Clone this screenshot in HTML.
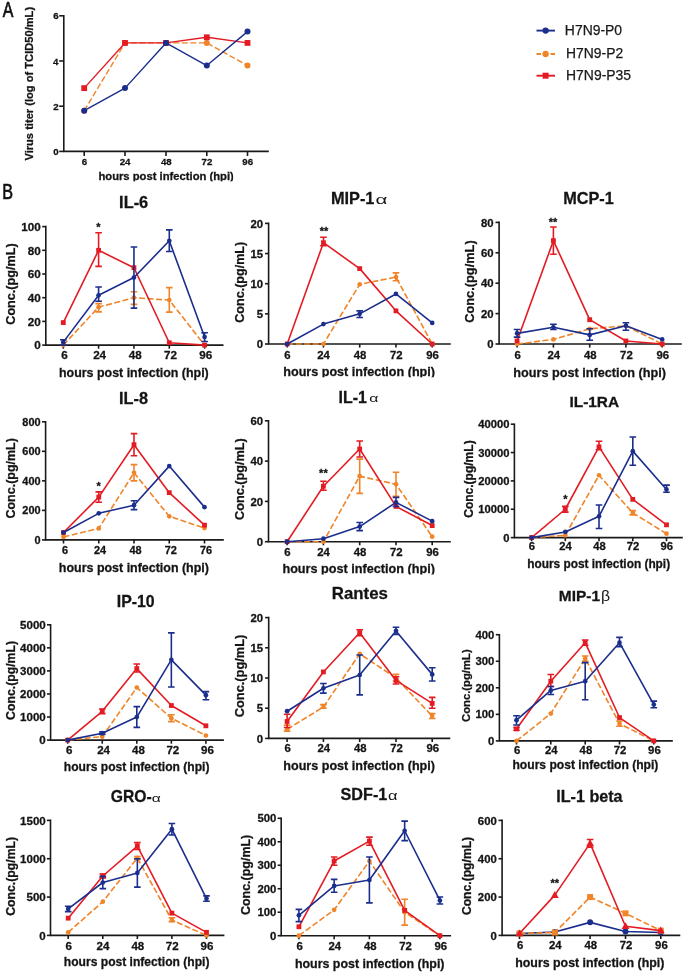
<!DOCTYPE html><html><head><meta charset="utf-8"><style>html,body{margin:0;padding:0;background:#fff;width:685px;height:972px;overflow:hidden}svg{display:block;will-change:transform}</style></head><body><svg width="685" height="972" viewBox="0 0 685 972" font-family='"Liberation Sans", sans-serif'>
<style>text[font-weight="bold"]{stroke:#141414;stroke-width:0.28px}</style>
<rect width="685" height="972" fill="#fff"/>
<path d="M63.8 15.8V151.4H268" fill="none" stroke="#1a1a1a" stroke-width="1.6" stroke-linecap="square"/>
<g stroke="#141414" stroke-width="0.3">
<path d="M59.2 151.4H63.8" stroke="#1a1a1a" stroke-width="1.6"/>
<text transform="translate(53.3,154.95) scale(0.98,1)" font-size="9.9" font-weight="bold" font-family='"Liberation Sans", sans-serif' fill="#141414">0</text>
<path d="M59.2 106.2H63.8" stroke="#1a1a1a" stroke-width="1.6"/>
<text transform="translate(53.3,109.75) scale(0.98,1)" font-size="9.9" font-weight="bold" font-family='"Liberation Sans", sans-serif' fill="#141414">2</text>
<path d="M59.2 61H63.8" stroke="#1a1a1a" stroke-width="1.6"/>
<text transform="translate(52.96,64.55) scale(0.98,1)" font-size="9.9" font-weight="bold" font-family='"Liberation Sans", sans-serif' fill="#141414">4</text>
<path d="M59.2 15.8H63.8" stroke="#1a1a1a" stroke-width="1.6"/>
<text transform="translate(53.25,19.35) scale(0.98,1)" font-size="9.9" font-weight="bold" font-family='"Liberation Sans", sans-serif' fill="#141414">6</text>
<path d="M84.2 151.4V156" stroke="#1a1a1a" stroke-width="1.6"/>
<text transform="translate(81.7,164.8) scale(0.98,1)" font-size="9.9" font-weight="bold" font-family='"Liberation Sans", sans-serif' fill="#141414">6</text>
<path d="M125 151.4V156" stroke="#1a1a1a" stroke-width="1.6"/>
<text transform="translate(119.67,164.8) scale(0.98,1)" font-size="9.9" font-weight="bold" font-family='"Liberation Sans", sans-serif' fill="#141414">24</text>
<path d="M166 151.4V156" stroke="#1a1a1a" stroke-width="1.6"/>
<text transform="translate(160.89,164.8) scale(0.98,1)" font-size="9.9" font-weight="bold" font-family='"Liberation Sans", sans-serif' fill="#141414">48</text>
<path d="M206.8 151.4V156" stroke="#1a1a1a" stroke-width="1.6"/>
<text transform="translate(201.6,164.8) scale(0.98,1)" font-size="9.9" font-weight="bold" font-family='"Liberation Sans", sans-serif' fill="#141414">72</text>
<path d="M247.5 151.4V156" stroke="#1a1a1a" stroke-width="1.6"/>
<text transform="translate(242.32,164.8) scale(0.98,1)" font-size="9.9" font-weight="bold" font-family='"Liberation Sans", sans-serif' fill="#141414">96</text>
</g>
<clipPath id="c24"><rect x="80" y="160" width="153.2" height="21.19999999999999"/></clipPath><g clip-path="url(#c24)">
<text x="98.41" y="179.8" font-size="11.24" font-weight="bold" font-family='"Liberation Sans", sans-serif' fill="#141414">hours post infection (hpi)</text>
</g>
<text transform="translate(33.1,160.58) rotate(-90)" font-size="11.14" font-weight="bold" fill="#141414">Virus titer (log of TCID50/mL)</text>
<g>
<polyline points="84.2,110.72 125,42.92 166,42.92 206.8,42.92 247.5,65.52" fill="none" stroke="#f08428" stroke-width="1.4" stroke-linejoin="round" stroke-dasharray="6,2.5"/>
<circle cx="84.2" cy="110.72" r="3" fill="#f08428"/>
<circle cx="125" cy="42.92" r="3" fill="#f08428"/>
<circle cx="166" cy="42.92" r="3" fill="#f08428"/>
<circle cx="206.8" cy="42.92" r="3" fill="#f08428"/>
<circle cx="247.5" cy="65.52" r="3" fill="#f08428"/>
</g>
<g>
<polyline points="84.2,88.12 125,42.92 166,42.92 206.8,37.27 247.5,42.92" fill="none" stroke="#e41b23" stroke-width="1.4" stroke-linejoin="round"/>
<rect x="81.3" y="85.22" width="5.8" height="5.8" fill="#e41b23"/>
<rect x="122.1" y="40.02" width="5.8" height="5.8" fill="#e41b23"/>
<rect x="163.1" y="40.02" width="5.8" height="5.8" fill="#e41b23"/>
<rect x="203.9" y="34.37" width="5.8" height="5.8" fill="#e41b23"/>
<rect x="244.6" y="40.02" width="5.8" height="5.8" fill="#e41b23"/>
</g>
<g>
<polyline points="84.2,110.72 125,88.12 166,42.92 206.8,65.52 247.5,31.62" fill="none" stroke="#1b2e8c" stroke-width="1.4" stroke-linejoin="round"/>
<circle cx="84.2" cy="110.72" r="3" fill="#1b2e8c"/>
<circle cx="125" cy="88.12" r="3" fill="#1b2e8c"/>
<circle cx="166" cy="42.92" r="3" fill="#1b2e8c"/>
<circle cx="206.8" cy="65.52" r="3" fill="#1b2e8c"/>
<circle cx="247.5" cy="31.62" r="3" fill="#1b2e8c"/>
</g>
<path d="M45.8 226.6V345.1H222.7" fill="none" stroke="#1a1a1a" stroke-width="1.6" stroke-linecap="square"/>
<g stroke="#141414" stroke-width="0.3">
<path d="M42.2 345.1H45.8" stroke="#1a1a1a" stroke-width="1.6"/>
<text transform="translate(34.19,349.3) scale(1.07,1)" font-size="10.9" font-weight="bold" font-family='"Liberation Sans", sans-serif' fill="#141414">0</text>
<path d="M42.2 321.4H45.8" stroke="#1a1a1a" stroke-width="1.6"/>
<text transform="translate(27.72,325.6) scale(1.07,1)" font-size="10.9" font-weight="bold" font-family='"Liberation Sans", sans-serif' fill="#141414">20</text>
<path d="M42.2 297.7H45.8" stroke="#1a1a1a" stroke-width="1.6"/>
<text transform="translate(27.72,301.9) scale(1.07,1)" font-size="10.9" font-weight="bold" font-family='"Liberation Sans", sans-serif' fill="#141414">40</text>
<path d="M42.2 274H45.8" stroke="#1a1a1a" stroke-width="1.6"/>
<text transform="translate(27.72,278.2) scale(1.07,1)" font-size="10.9" font-weight="bold" font-family='"Liberation Sans", sans-serif' fill="#141414">60</text>
<path d="M42.2 250.3H45.8" stroke="#1a1a1a" stroke-width="1.6"/>
<text transform="translate(27.72,254.5) scale(1.07,1)" font-size="10.9" font-weight="bold" font-family='"Liberation Sans", sans-serif' fill="#141414">80</text>
<path d="M42.2 226.6H45.8" stroke="#1a1a1a" stroke-width="1.6"/>
<text transform="translate(21.22,230.8) scale(1.07,1)" font-size="10.9" font-weight="bold" font-family='"Liberation Sans", sans-serif' fill="#141414">100</text>
<path d="M63.3 345.1V348.7" stroke="#1a1a1a" stroke-width="1.6"/>
<text transform="translate(61.25,359.2) scale(1.07,1)" font-size="10.9" font-weight="bold" font-family='"Liberation Sans", sans-serif' fill="#141414">6</text>
<path d="M98.6 345.1V348.7" stroke="#1a1a1a" stroke-width="1.6"/>
<text transform="translate(93.15,359.2) scale(1.07,1)" font-size="10.9" font-weight="bold" font-family='"Liberation Sans", sans-serif' fill="#141414">24</text>
<path d="M133.95 345.1V348.7" stroke="#1a1a1a" stroke-width="1.6"/>
<text transform="translate(128.76,359.2) scale(1.07,1)" font-size="10.9" font-weight="bold" font-family='"Liberation Sans", sans-serif' fill="#141414">48</text>
<path d="M169.3 345.1V348.7" stroke="#1a1a1a" stroke-width="1.6"/>
<text transform="translate(164.01,359.2) scale(1.07,1)" font-size="10.9" font-weight="bold" font-family='"Liberation Sans", sans-serif' fill="#141414">72</text>
<path d="M204.6 345.1V348.7" stroke="#1a1a1a" stroke-width="1.6"/>
<text transform="translate(199.33,359.2) scale(1.07,1)" font-size="10.9" font-weight="bold" font-family='"Liberation Sans", sans-serif' fill="#141414">96</text>
</g>
<text x="59.03" y="376.9" font-size="12.43" font-weight="bold" font-family='"Liberation Sans", sans-serif' fill="#141414">hours post infection (hpi)</text>
<text transform="translate(14.7,324.71) rotate(-90)" font-size="12.64" font-weight="bold" fill="#141414">Conc.(pg/mL)</text>
<text x="119.1" y="208.4" font-size="16.36" font-weight="bold" font-family='"Liberation Sans", sans-serif' fill="#141414">IL-6</text>
<g>
<polyline points="63.3,345.1 98.6,307.18 133.95,297.7 169.3,300.07 204.6,345.1" fill="none" stroke="#f08428" stroke-width="1.6" stroke-linejoin="round" stroke-dasharray="6,2.5"/>
<path d="M98.6 311.92V303.62M95.3 303.62H101.9M95.3 311.92H101.9" fill="none" stroke="#f08428" stroke-width="1.6"/>
<path d="M133.95 304.34V291.78M130.65 291.78H137.25M130.65 304.34H137.25" fill="none" stroke="#f08428" stroke-width="1.6"/>
<path d="M169.3 312.16V287.63M166 287.63H172.6M166 312.16H172.6" fill="none" stroke="#f08428" stroke-width="1.6"/>
<circle cx="63.3" cy="345.1" r="2.35" fill="#f08428"/>
<circle cx="98.6" cy="307.18" r="2.35" fill="#f08428"/>
<circle cx="133.95" cy="297.7" r="2.35" fill="#f08428"/>
<circle cx="169.3" cy="300.07" r="2.35" fill="#f08428"/>
<circle cx="204.6" cy="345.1" r="2.35" fill="#f08428"/>
</g>
<g>
<polyline points="63.3,322.59 98.6,250.3 133.95,267.72 169.3,342.73 204.6,345.1" fill="none" stroke="#e41b23" stroke-width="1.6" stroke-linejoin="round"/>
<path d="M98.6 266.42V232.76M95.3 232.76H101.9M95.3 266.42H101.9" fill="none" stroke="#e41b23" stroke-width="1.6"/>
<rect x="60.9" y="320.19" width="4.8" height="4.8" fill="#e41b23"/>
<rect x="96.2" y="247.9" width="4.8" height="4.8" fill="#e41b23"/>
<rect x="131.55" y="265.32" width="4.8" height="4.8" fill="#e41b23"/>
<rect x="166.9" y="340.33" width="4.8" height="4.8" fill="#e41b23"/>
<rect x="202.2" y="342.7" width="4.8" height="4.8" fill="#e41b23"/>
</g>
<g>
<polyline points="63.3,342.14 98.6,295.33 133.95,277.56 169.3,240.82 204.6,337.04" fill="none" stroke="#1b2e8c" stroke-width="1.6" stroke-linejoin="round"/>
<path d="M63.3 345.1V339.77M60 339.77H66.6M60 345.1H66.6" fill="none" stroke="#1b2e8c" stroke-width="1.6"/>
<path d="M98.6 301.25V287.04M95.3 287.04H101.9M95.3 301.25H101.9" fill="none" stroke="#1b2e8c" stroke-width="1.6"/>
<path d="M133.95 308.13V246.98M130.65 246.98H137.25M130.65 308.13H137.25" fill="none" stroke="#1b2e8c" stroke-width="1.6"/>
<path d="M169.3 251.49V229.92M166 229.92H172.6M166 251.49H172.6" fill="none" stroke="#1b2e8c" stroke-width="1.6"/>
<path d="M204.6 341.55V332.78M201.3 332.78H207.9M201.3 341.55H207.9" fill="none" stroke="#1b2e8c" stroke-width="1.6"/>
<circle cx="63.3" cy="342.14" r="2.35" fill="#1b2e8c"/>
<circle cx="98.6" cy="295.33" r="2.35" fill="#1b2e8c"/>
<circle cx="133.95" cy="277.56" r="2.35" fill="#1b2e8c"/>
<circle cx="169.3" cy="240.82" r="2.35" fill="#1b2e8c"/>
<circle cx="204.6" cy="337.04" r="2.35" fill="#1b2e8c"/>
</g>
<text x="96.26" y="231" font-size="11" font-weight="bold" font-family='"Liberation Sans", sans-serif' fill="#111">*</text>
<path d="M268.6 223.4V344H450" fill="none" stroke="#1a1a1a" stroke-width="1.6" stroke-linecap="square"/>
<g stroke="#141414" stroke-width="0.3">
<path d="M265 344H268.6" stroke="#1a1a1a" stroke-width="1.6"/>
<text transform="translate(256.86,348.1) scale(1.07,1)" font-size="10.6" font-weight="bold" font-family='"Liberation Sans", sans-serif' fill="#141414">0</text>
<path d="M265 313.85H268.6" stroke="#1a1a1a" stroke-width="1.6"/>
<text transform="translate(256.72,317.95) scale(1.07,1)" font-size="10.6" font-weight="bold" font-family='"Liberation Sans", sans-serif' fill="#141414">5</text>
<path d="M265 283.7H268.6" stroke="#1a1a1a" stroke-width="1.6"/>
<text transform="translate(250.56,287.8) scale(1.07,1)" font-size="10.6" font-weight="bold" font-family='"Liberation Sans", sans-serif' fill="#141414">10</text>
<path d="M265 253.55H268.6" stroke="#1a1a1a" stroke-width="1.6"/>
<text transform="translate(250.42,257.65) scale(1.07,1)" font-size="10.6" font-weight="bold" font-family='"Liberation Sans", sans-serif' fill="#141414">15</text>
<path d="M265 223.4H268.6" stroke="#1a1a1a" stroke-width="1.6"/>
<text transform="translate(250.56,227.5) scale(1.07,1)" font-size="10.6" font-weight="bold" font-family='"Liberation Sans", sans-serif' fill="#141414">20</text>
<path d="M287.2 344V347.6" stroke="#1a1a1a" stroke-width="1.6"/>
<text transform="translate(284.34,358.9) scale(1.07,1)" font-size="10.6" font-weight="bold" font-family='"Liberation Sans", sans-serif' fill="#141414">6</text>
<path d="M323.45 344V347.6" stroke="#1a1a1a" stroke-width="1.6"/>
<text transform="translate(317.29,358.9) scale(1.07,1)" font-size="10.6" font-weight="bold" font-family='"Liberation Sans", sans-serif' fill="#141414">24</text>
<path d="M359.7 344V347.6" stroke="#1a1a1a" stroke-width="1.6"/>
<text transform="translate(353.79,358.9) scale(1.07,1)" font-size="10.6" font-weight="bold" font-family='"Liberation Sans", sans-serif' fill="#141414">48</text>
<path d="M395.95 344V347.6" stroke="#1a1a1a" stroke-width="1.6"/>
<text transform="translate(389.94,358.9) scale(1.07,1)" font-size="10.6" font-weight="bold" font-family='"Liberation Sans", sans-serif' fill="#141414">72</text>
<path d="M432.2 344V347.6" stroke="#1a1a1a" stroke-width="1.6"/>
<text transform="translate(426.21,358.9) scale(1.07,1)" font-size="10.6" font-weight="bold" font-family='"Liberation Sans", sans-serif' fill="#141414">96</text>
</g>
<clipPath id="c137"><rect x="250" y="350" width="210" height="27.30000000000001"/></clipPath><g clip-path="url(#c137)">
<text x="283.32" y="376.1" font-size="12.59" font-weight="bold" font-family='"Liberation Sans", sans-serif' fill="#141414">hours post infection (hpi)</text>
</g>
<text transform="translate(243.75,322.8) rotate(-90)" font-size="12.58" font-weight="bold" fill="#141414">Conc.(pg/mL)</text>
<text x="330.9" y="204.3" font-size="16.34" font-weight="bold" font-family='"Liberation Sans", sans-serif' fill="#141414">MIP-1</text>
<text transform="translate(375.53,204.17) scale(1.56,1)" font-size="13.15" font-weight="normal" font-family='"Liberation Sans", sans-serif' fill="#141414">α</text>
<g>
<polyline points="287.2,344 323.45,344 359.7,284.3 395.95,277.07 432.2,344" fill="none" stroke="#f08428" stroke-width="1.6" stroke-linejoin="round" stroke-dasharray="6,2.5"/>
<path d="M395.95 280.69V272.85M392.65 272.85H399.25M392.65 280.69H399.25" fill="none" stroke="#f08428" stroke-width="1.6"/>
<circle cx="287.2" cy="344" r="2.35" fill="#f08428"/>
<circle cx="323.45" cy="344" r="2.35" fill="#f08428"/>
<circle cx="359.7" cy="284.3" r="2.35" fill="#f08428"/>
<circle cx="395.95" cy="277.07" r="2.35" fill="#f08428"/>
<circle cx="432.2" cy="344" r="2.35" fill="#f08428"/>
</g>
<g>
<polyline points="287.2,344 323.45,242.7 359.7,268.62 395.95,310.83 432.2,344" fill="none" stroke="#e41b23" stroke-width="1.6" stroke-linejoin="round"/>
<path d="M323.45 245.71V237.27M320.15 237.27H326.75M320.15 245.71H326.75" fill="none" stroke="#e41b23" stroke-width="1.6"/>
<rect x="284.8" y="341.6" width="4.8" height="4.8" fill="#e41b23"/>
<rect x="321.05" y="240.3" width="4.8" height="4.8" fill="#e41b23"/>
<rect x="357.3" y="266.23" width="4.8" height="4.8" fill="#e41b23"/>
<rect x="393.55" y="308.44" width="4.8" height="4.8" fill="#e41b23"/>
<rect x="429.8" y="341.6" width="4.8" height="4.8" fill="#e41b23"/>
</g>
<g>
<polyline points="287.2,344 323.45,324.1 359.7,313.85 395.95,293.95 432.2,322.89" fill="none" stroke="#1b2e8c" stroke-width="1.6" stroke-linejoin="round"/>
<path d="M359.7 317.47V310.83M356.4 310.83H363M356.4 317.47H363" fill="none" stroke="#1b2e8c" stroke-width="1.6"/>
<circle cx="287.2" cy="344" r="2.35" fill="#1b2e8c"/>
<circle cx="323.45" cy="324.1" r="2.35" fill="#1b2e8c"/>
<circle cx="359.7" cy="313.85" r="2.35" fill="#1b2e8c"/>
<circle cx="395.95" cy="293.95" r="2.35" fill="#1b2e8c"/>
<circle cx="432.2" cy="322.89" r="2.35" fill="#1b2e8c"/>
</g>
<text x="319.71" y="235.1" font-size="11" font-weight="bold" font-family='"Liberation Sans", sans-serif' fill="#111">**</text>
<path d="M499.1 222.4V344H681" fill="none" stroke="#1a1a1a" stroke-width="1.6" stroke-linecap="square"/>
<g stroke="#141414" stroke-width="0.3">
<path d="M495.5 344H499.1" stroke="#1a1a1a" stroke-width="1.6"/>
<text transform="translate(487.26,348.1) scale(1.07,1)" font-size="10.6" font-weight="bold" font-family='"Liberation Sans", sans-serif' fill="#141414">0</text>
<path d="M495.5 313.6H499.1" stroke="#1a1a1a" stroke-width="1.6"/>
<text transform="translate(480.96,317.7) scale(1.07,1)" font-size="10.6" font-weight="bold" font-family='"Liberation Sans", sans-serif' fill="#141414">20</text>
<path d="M495.5 283.2H499.1" stroke="#1a1a1a" stroke-width="1.6"/>
<text transform="translate(480.96,287.3) scale(1.07,1)" font-size="10.6" font-weight="bold" font-family='"Liberation Sans", sans-serif' fill="#141414">40</text>
<path d="M495.5 252.8H499.1" stroke="#1a1a1a" stroke-width="1.6"/>
<text transform="translate(480.96,256.9) scale(1.07,1)" font-size="10.6" font-weight="bold" font-family='"Liberation Sans", sans-serif' fill="#141414">60</text>
<path d="M495.5 222.4H499.1" stroke="#1a1a1a" stroke-width="1.6"/>
<text transform="translate(480.96,226.5) scale(1.07,1)" font-size="10.6" font-weight="bold" font-family='"Liberation Sans", sans-serif' fill="#141414">80</text>
<path d="M517.1 344V347.6" stroke="#1a1a1a" stroke-width="1.6"/>
<text transform="translate(514.44,359) scale(1.07,1)" font-size="10.6" font-weight="bold" font-family='"Liberation Sans", sans-serif' fill="#141414">6</text>
<path d="M553.4 344V347.6" stroke="#1a1a1a" stroke-width="1.6"/>
<text transform="translate(547.44,359) scale(1.07,1)" font-size="10.6" font-weight="bold" font-family='"Liberation Sans", sans-serif' fill="#141414">24</text>
<path d="M589.7 344V347.6" stroke="#1a1a1a" stroke-width="1.6"/>
<text transform="translate(583.99,359) scale(1.07,1)" font-size="10.6" font-weight="bold" font-family='"Liberation Sans", sans-serif' fill="#141414">48</text>
<path d="M625.9 344V347.6" stroke="#1a1a1a" stroke-width="1.6"/>
<text transform="translate(620.09,359) scale(1.07,1)" font-size="10.6" font-weight="bold" font-family='"Liberation Sans", sans-serif' fill="#141414">72</text>
<path d="M662.2 344V347.6" stroke="#1a1a1a" stroke-width="1.6"/>
<text transform="translate(656.41,359) scale(1.07,1)" font-size="10.6" font-weight="bold" font-family='"Liberation Sans", sans-serif' fill="#141414">96</text>
</g>
<text x="513.31" y="376.9" font-size="12.66" font-weight="bold" font-family='"Liberation Sans", sans-serif' fill="#141414">hours post infection (hpi)</text>
<text transform="translate(473.75,322.81) rotate(-90)" font-size="12.8" font-weight="bold" fill="#141414">Conc.(pg/mL)</text>
<text x="563.2" y="203.7" font-size="16.29" font-weight="bold" font-family='"Liberation Sans", sans-serif' fill="#141414">MCP-1</text>
<g>
<polyline points="517.1,344 553.4,339.44 589.7,328.8 625.9,325.76 662.2,344" fill="none" stroke="#f08428" stroke-width="1.6" stroke-linejoin="round" stroke-dasharray="6,2.5"/>
<circle cx="517.1" cy="344" r="2.35" fill="#f08428"/>
<circle cx="553.4" cy="339.44" r="2.35" fill="#f08428"/>
<circle cx="589.7" cy="328.8" r="2.35" fill="#f08428"/>
<circle cx="625.9" cy="325.76" r="2.35" fill="#f08428"/>
<circle cx="662.2" cy="344" r="2.35" fill="#f08428"/>
</g>
<g>
<polyline points="517.1,340.96 553.4,240.64 589.7,319.68 625.9,340.96 662.2,344" fill="none" stroke="#e41b23" stroke-width="1.6" stroke-linejoin="round"/>
<path d="M553.4 254.32V226.96M550.1 226.96H556.7M550.1 254.32H556.7" fill="none" stroke="#e41b23" stroke-width="1.6"/>
<rect x="514.7" y="338.56" width="4.8" height="4.8" fill="#e41b23"/>
<rect x="551" y="238.24" width="4.8" height="4.8" fill="#e41b23"/>
<rect x="587.3" y="317.28" width="4.8" height="4.8" fill="#e41b23"/>
<rect x="623.5" y="338.56" width="4.8" height="4.8" fill="#e41b23"/>
<rect x="659.8" y="341.6" width="4.8" height="4.8" fill="#e41b23"/>
</g>
<g>
<polyline points="517.1,333.36 553.4,327.28 589.7,334.88 625.9,325.76 662.2,339.44" fill="none" stroke="#1b2e8c" stroke-width="1.6" stroke-linejoin="round"/>
<path d="M517.1 337.16V329.56M513.8 329.56H520.4M513.8 337.16H520.4" fill="none" stroke="#1b2e8c" stroke-width="1.6"/>
<path d="M553.4 329.56V324.24M550.1 324.24H556.7M550.1 329.56H556.7" fill="none" stroke="#1b2e8c" stroke-width="1.6"/>
<path d="M589.7 340.2V328.8M586.4 328.8H593M586.4 340.2H593" fill="none" stroke="#1b2e8c" stroke-width="1.6"/>
<path d="M625.9 330.32V322.72M622.6 322.72H629.2M622.6 330.32H629.2" fill="none" stroke="#1b2e8c" stroke-width="1.6"/>
<circle cx="517.1" cy="333.36" r="2.35" fill="#1b2e8c"/>
<circle cx="553.4" cy="327.28" r="2.35" fill="#1b2e8c"/>
<circle cx="589.7" cy="334.88" r="2.35" fill="#1b2e8c"/>
<circle cx="625.9" cy="325.76" r="2.35" fill="#1b2e8c"/>
<circle cx="662.2" cy="339.44" r="2.35" fill="#1b2e8c"/>
</g>
<text x="548.71" y="226" font-size="11" font-weight="bold" font-family='"Liberation Sans", sans-serif' fill="#111">**</text>
<path d="M45.6 421.8V539.9H223" fill="none" stroke="#1a1a1a" stroke-width="1.6" stroke-linecap="square"/>
<g stroke="#141414" stroke-width="0.3">
<path d="M42 539.9H45.6" stroke="#1a1a1a" stroke-width="1.6"/>
<text transform="translate(34.48,543.86) scale(1.07,1)" font-size="10.2" font-weight="bold" font-family='"Liberation Sans", sans-serif' fill="#141414">0</text>
<path d="M42 510.38H45.6" stroke="#1a1a1a" stroke-width="1.6"/>
<text transform="translate(22.34,514.33) scale(1.07,1)" font-size="10.2" font-weight="bold" font-family='"Liberation Sans", sans-serif' fill="#141414">200</text>
<path d="M42 480.85H45.6" stroke="#1a1a1a" stroke-width="1.6"/>
<text transform="translate(22.34,484.81) scale(1.07,1)" font-size="10.2" font-weight="bold" font-family='"Liberation Sans", sans-serif' fill="#141414">400</text>
<path d="M42 451.32H45.6" stroke="#1a1a1a" stroke-width="1.6"/>
<text transform="translate(22.34,455.28) scale(1.07,1)" font-size="10.2" font-weight="bold" font-family='"Liberation Sans", sans-serif' fill="#141414">600</text>
<path d="M42 421.8H45.6" stroke="#1a1a1a" stroke-width="1.6"/>
<text transform="translate(22.34,425.76) scale(1.07,1)" font-size="10.2" font-weight="bold" font-family='"Liberation Sans", sans-serif' fill="#141414">800</text>
<path d="M63.5 539.9V543.5" stroke="#1a1a1a" stroke-width="1.6"/>
<text transform="translate(61.96,554.4) scale(1.07,1)" font-size="10.2" font-weight="bold" font-family='"Liberation Sans", sans-serif' fill="#141414">6</text>
<path d="M98.75 539.9V543.5" stroke="#1a1a1a" stroke-width="1.6"/>
<text transform="translate(94.03,554.4) scale(1.07,1)" font-size="10.2" font-weight="bold" font-family='"Liberation Sans", sans-serif' fill="#141414">24</text>
<path d="M134 539.9V543.5" stroke="#1a1a1a" stroke-width="1.6"/>
<text transform="translate(129.52,554.4) scale(1.07,1)" font-size="10.2" font-weight="bold" font-family='"Liberation Sans", sans-serif' fill="#141414">48</text>
<path d="M169.25 539.9V543.5" stroke="#1a1a1a" stroke-width="1.6"/>
<text transform="translate(164.68,554.4) scale(1.07,1)" font-size="10.2" font-weight="bold" font-family='"Liberation Sans", sans-serif' fill="#141414">72</text>
<path d="M204.5 539.9V543.5" stroke="#1a1a1a" stroke-width="1.6"/>
<text transform="translate(199.9,554.4) scale(1.07,1)" font-size="10.2" font-weight="bold" font-family='"Liberation Sans", sans-serif' fill="#141414">76</text>
</g>
<text x="58.83" y="571.9" font-size="12.46" font-weight="bold" font-family='"Liberation Sans", sans-serif' fill="#141414">hours post infection (hpi)</text>
<text transform="translate(15,518.5) rotate(-90)" font-size="12.47" font-weight="bold" fill="#141414">Conc.(pg/mL)</text>
<text x="119.1" y="403.7" font-size="16.31" font-weight="bold" font-family='"Liberation Sans", sans-serif' fill="#141414">IL-8</text>
<g>
<polyline points="63.5,536.95 98.75,528.39 134,472.73 169.25,516.28 204.5,528.09" fill="none" stroke="#f08428" stroke-width="1.6" stroke-linejoin="round" stroke-dasharray="6,2.5"/>
<path d="M134 480.85V464.61M130.7 464.61H137.3M130.7 480.85H137.3" fill="none" stroke="#f08428" stroke-width="1.6"/>
<circle cx="63.5" cy="536.95" r="2.35" fill="#f08428"/>
<circle cx="98.75" cy="528.39" r="2.35" fill="#f08428"/>
<circle cx="134" cy="472.73" r="2.35" fill="#f08428"/>
<circle cx="169.25" cy="516.28" r="2.35" fill="#f08428"/>
<circle cx="204.5" cy="528.09" r="2.35" fill="#f08428"/>
</g>
<g>
<polyline points="63.5,532.52 98.75,497.09 134,444.68 169.25,492.66 204.5,525.14" fill="none" stroke="#e41b23" stroke-width="1.6" stroke-linejoin="round"/>
<path d="M98.75 502.26V491.92M95.45 491.92H102.05M95.45 502.26H102.05" fill="none" stroke="#e41b23" stroke-width="1.6"/>
<path d="M134 455.75V433.61M130.7 433.61H137.3M130.7 455.75H137.3" fill="none" stroke="#e41b23" stroke-width="1.6"/>
<rect x="61.1" y="530.12" width="4.8" height="4.8" fill="#e41b23"/>
<rect x="96.35" y="494.69" width="4.8" height="4.8" fill="#e41b23"/>
<rect x="131.6" y="442.28" width="4.8" height="4.8" fill="#e41b23"/>
<rect x="166.85" y="490.26" width="4.8" height="4.8" fill="#e41b23"/>
<rect x="202.1" y="522.74" width="4.8" height="4.8" fill="#e41b23"/>
</g>
<g>
<polyline points="63.5,532.52 98.75,513.33 134,505.21 169.25,466.09 204.5,507.13" fill="none" stroke="#1b2e8c" stroke-width="1.6" stroke-linejoin="round"/>
<path d="M134 509.64V500.78M130.7 500.78H137.3M130.7 509.64H137.3" fill="none" stroke="#1b2e8c" stroke-width="1.6"/>
<circle cx="63.5" cy="532.52" r="2.35" fill="#1b2e8c"/>
<circle cx="98.75" cy="513.33" r="2.35" fill="#1b2e8c"/>
<circle cx="134" cy="505.21" r="2.35" fill="#1b2e8c"/>
<circle cx="169.25" cy="466.09" r="2.35" fill="#1b2e8c"/>
<circle cx="204.5" cy="507.13" r="2.35" fill="#1b2e8c"/>
</g>
<text x="96.61" y="489.5" font-size="11" font-weight="bold" font-family='"Liberation Sans", sans-serif' fill="#111">*</text>
<path d="M268.5 420.8V541.7H450" fill="none" stroke="#1a1a1a" stroke-width="1.6" stroke-linecap="square"/>
<g stroke="#141414" stroke-width="0.3">
<path d="M264.9 541.7H268.5" stroke="#1a1a1a" stroke-width="1.6"/>
<text transform="translate(256.86,545.8) scale(1.07,1)" font-size="10.6" font-weight="bold" font-family='"Liberation Sans", sans-serif' fill="#141414">0</text>
<path d="M264.9 501.4H268.5" stroke="#1a1a1a" stroke-width="1.6"/>
<text transform="translate(250.56,505.5) scale(1.07,1)" font-size="10.6" font-weight="bold" font-family='"Liberation Sans", sans-serif' fill="#141414">20</text>
<path d="M264.9 461.1H268.5" stroke="#1a1a1a" stroke-width="1.6"/>
<text transform="translate(250.56,465.2) scale(1.07,1)" font-size="10.6" font-weight="bold" font-family='"Liberation Sans", sans-serif' fill="#141414">40</text>
<path d="M264.9 420.8H268.5" stroke="#1a1a1a" stroke-width="1.6"/>
<text transform="translate(250.56,424.9) scale(1.07,1)" font-size="10.6" font-weight="bold" font-family='"Liberation Sans", sans-serif' fill="#141414">60</text>
<path d="M287.1 541.7V545.3" stroke="#1a1a1a" stroke-width="1.6"/>
<text transform="translate(284.24,556.1) scale(1.07,1)" font-size="10.6" font-weight="bold" font-family='"Liberation Sans", sans-serif' fill="#141414">6</text>
<path d="M323.4 541.7V545.3" stroke="#1a1a1a" stroke-width="1.6"/>
<text transform="translate(317.24,556.1) scale(1.07,1)" font-size="10.6" font-weight="bold" font-family='"Liberation Sans", sans-serif' fill="#141414">24</text>
<path d="M359.7 541.7V545.3" stroke="#1a1a1a" stroke-width="1.6"/>
<text transform="translate(353.79,556.1) scale(1.07,1)" font-size="10.6" font-weight="bold" font-family='"Liberation Sans", sans-serif' fill="#141414">48</text>
<path d="M396 541.7V545.3" stroke="#1a1a1a" stroke-width="1.6"/>
<text transform="translate(389.99,556.1) scale(1.07,1)" font-size="10.6" font-weight="bold" font-family='"Liberation Sans", sans-serif' fill="#141414">72</text>
<path d="M432.2 541.7V545.3" stroke="#1a1a1a" stroke-width="1.6"/>
<text transform="translate(426.21,556.1) scale(1.07,1)" font-size="10.6" font-weight="bold" font-family='"Liberation Sans", sans-serif' fill="#141414">96</text>
</g>
<clipPath id="c303"><rect x="250" y="550" width="210" height="24.399999999999977"/></clipPath><g clip-path="url(#c303)">
<text x="282.41" y="573.3" font-size="12.67" font-weight="bold" font-family='"Liberation Sans", sans-serif' fill="#141414">hours post infection (hpi)</text>
</g>
<text transform="translate(243.75,519.91) rotate(-90)" font-size="12.69" font-weight="bold" fill="#141414">Conc.(pg/mL)</text>
<text x="338.52" y="402.5" font-size="15.93" font-weight="bold" font-family='"Liberation Sans", sans-serif' fill="#141414">IL-1</text>
<text transform="translate(369.33,402.39) scale(1.44,1)" font-size="10.96" font-weight="normal" font-family='"Liberation Sans", sans-serif' fill="#141414">α</text>
<g>
<polyline points="287.1,541.7 323.4,541.7 359.7,476.21 396,484.27 432.2,536.66" fill="none" stroke="#f08428" stroke-width="1.6" stroke-linejoin="round" stroke-dasharray="6,2.5"/>
<path d="M359.7 493.34V459.09M356.4 459.09H363M356.4 493.34H363" fill="none" stroke="#f08428" stroke-width="1.6"/>
<path d="M396 496.36V472.18M392.7 472.18H399.3M392.7 496.36H399.3" fill="none" stroke="#f08428" stroke-width="1.6"/>
<circle cx="287.1" cy="541.7" r="2.35" fill="#f08428"/>
<circle cx="323.4" cy="541.7" r="2.35" fill="#f08428"/>
<circle cx="359.7" cy="476.21" r="2.35" fill="#f08428"/>
<circle cx="396" cy="484.27" r="2.35" fill="#f08428"/>
<circle cx="432.2" cy="536.66" r="2.35" fill="#f08428"/>
</g>
<g>
<polyline points="287.1,541.7 323.4,486.29 359.7,449.01 396,506.44 432.2,525.58" fill="none" stroke="#e41b23" stroke-width="1.6" stroke-linejoin="round"/>
<path d="M323.4 490.32V481.25M320.1 481.25H326.7M320.1 490.32H326.7" fill="none" stroke="#e41b23" stroke-width="1.6"/>
<path d="M359.7 457.07V440.95M356.4 440.95H363M356.4 457.07H363" fill="none" stroke="#e41b23" stroke-width="1.6"/>
<rect x="284.7" y="539.3" width="4.8" height="4.8" fill="#e41b23"/>
<rect x="321" y="483.89" width="4.8" height="4.8" fill="#e41b23"/>
<rect x="357.3" y="446.61" width="4.8" height="4.8" fill="#e41b23"/>
<rect x="393.6" y="504.04" width="4.8" height="4.8" fill="#e41b23"/>
<rect x="429.8" y="523.18" width="4.8" height="4.8" fill="#e41b23"/>
</g>
<g>
<polyline points="287.1,541.7 323.4,538.68 359.7,526.59 396,502.41 432.2,521.15" fill="none" stroke="#1b2e8c" stroke-width="1.6" stroke-linejoin="round"/>
<path d="M359.7 530.62V522.56M356.4 522.56H363M356.4 530.62H363" fill="none" stroke="#1b2e8c" stroke-width="1.6"/>
<path d="M396 506.44V497.37M392.7 497.37H399.3M392.7 506.44H399.3" fill="none" stroke="#1b2e8c" stroke-width="1.6"/>
<circle cx="287.1" cy="541.7" r="2.35" fill="#1b2e8c"/>
<circle cx="323.4" cy="538.68" r="2.35" fill="#1b2e8c"/>
<circle cx="359.7" cy="526.59" r="2.35" fill="#1b2e8c"/>
<circle cx="396" cy="502.41" r="2.35" fill="#1b2e8c"/>
<circle cx="432.2" cy="521.15" r="2.35" fill="#1b2e8c"/>
</g>
<text x="319.11" y="477" font-size="11" font-weight="bold" font-family='"Liberation Sans", sans-serif' fill="#111">**</text>
<path d="M514.4 424.2V537.6H682" fill="none" stroke="#1a1a1a" stroke-width="1.6" stroke-linecap="square"/>
<g stroke="#141414" stroke-width="0.3">
<path d="M510.8 537.6H514.4" stroke="#1a1a1a" stroke-width="1.6"/>
<text transform="translate(503.21,541.66) scale(1.07,1)" font-size="10.5" font-weight="bold" font-family='"Liberation Sans", sans-serif' fill="#141414">0</text>
<path d="M510.8 509.25H514.4" stroke="#1a1a1a" stroke-width="1.6"/>
<text transform="translate(478.22,513.31) scale(1.07,1)" font-size="10.5" font-weight="bold" font-family='"Liberation Sans", sans-serif' fill="#141414">10000</text>
<path d="M510.8 480.9H514.4" stroke="#1a1a1a" stroke-width="1.6"/>
<text transform="translate(478.22,484.96) scale(1.07,1)" font-size="10.5" font-weight="bold" font-family='"Liberation Sans", sans-serif' fill="#141414">20000</text>
<path d="M510.8 452.55H514.4" stroke="#1a1a1a" stroke-width="1.6"/>
<text transform="translate(478.22,456.61) scale(1.07,1)" font-size="10.5" font-weight="bold" font-family='"Liberation Sans", sans-serif' fill="#141414">30000</text>
<path d="M510.8 424.2H514.4" stroke="#1a1a1a" stroke-width="1.6"/>
<text transform="translate(478.22,428.26) scale(1.07,1)" font-size="10.5" font-weight="bold" font-family='"Liberation Sans", sans-serif' fill="#141414">40000</text>
<path d="M531.6 537.6V541.2" stroke="#1a1a1a" stroke-width="1.6"/>
<text transform="translate(528.77,550.3) scale(1.07,1)" font-size="10.5" font-weight="bold" font-family='"Liberation Sans", sans-serif' fill="#141414">6</text>
<path d="M565.3 537.6V541.2" stroke="#1a1a1a" stroke-width="1.6"/>
<text transform="translate(559.2,550.3) scale(1.07,1)" font-size="10.5" font-weight="bold" font-family='"Liberation Sans", sans-serif' fill="#141414">24</text>
<path d="M599 537.6V541.2" stroke="#1a1a1a" stroke-width="1.6"/>
<text transform="translate(593.15,550.3) scale(1.07,1)" font-size="10.5" font-weight="bold" font-family='"Liberation Sans", sans-serif' fill="#141414">48</text>
<path d="M632.8 537.6V541.2" stroke="#1a1a1a" stroke-width="1.6"/>
<text transform="translate(626.85,550.3) scale(1.07,1)" font-size="10.5" font-weight="bold" font-family='"Liberation Sans", sans-serif' fill="#141414">72</text>
<path d="M666.5 537.6V541.2" stroke="#1a1a1a" stroke-width="1.6"/>
<text transform="translate(660.56,550.3) scale(1.07,1)" font-size="10.5" font-weight="bold" font-family='"Liberation Sans", sans-serif' fill="#141414">96</text>
</g>
<text x="527.17" y="567.7" font-size="11.86" font-weight="bold" font-family='"Liberation Sans", sans-serif' fill="#141414">hours post infection (hpi)</text>
<text transform="translate(473,517.78) rotate(-90)" font-size="12.03" font-weight="bold" fill="#141414">Conc.(pg/mL)</text>
<text x="569.46" y="407.2" font-size="15.41" font-weight="bold" font-family='"Liberation Sans", sans-serif' fill="#141414">IL-1RA</text>
<g>
<polyline points="531.6,537.6 565.3,535.33 599,475.23 632.8,512.94 666.5,533.63" fill="none" stroke="#f08428" stroke-width="1.6" stroke-linejoin="round" stroke-dasharray="6,2.5"/>
<path d="M632.8 514.92V510.67M629.5 510.67H636.1M629.5 514.92H636.1" fill="none" stroke="#f08428" stroke-width="1.6"/>
<circle cx="531.6" cy="537.6" r="2.35" fill="#f08428"/>
<circle cx="565.3" cy="535.33" r="2.35" fill="#f08428"/>
<circle cx="599" cy="475.23" r="2.35" fill="#f08428"/>
<circle cx="632.8" cy="512.94" r="2.35" fill="#f08428"/>
<circle cx="666.5" cy="533.63" r="2.35" fill="#f08428"/>
</g>
<g>
<polyline points="531.6,537.6 565.3,509.25 599,446.88 632.8,499.33 666.5,524.84" fill="none" stroke="#e41b23" stroke-width="1.6" stroke-linejoin="round"/>
<path d="M565.3 512.09V506.42M562 506.42H568.6M562 512.09H568.6" fill="none" stroke="#e41b23" stroke-width="1.6"/>
<path d="M599 449.72V441.21M595.7 441.21H602.3M595.7 449.72H602.3" fill="none" stroke="#e41b23" stroke-width="1.6"/>
<rect x="529.2" y="535.2" width="4.8" height="4.8" fill="#e41b23"/>
<rect x="562.9" y="506.85" width="4.8" height="4.8" fill="#e41b23"/>
<rect x="596.6" y="444.48" width="4.8" height="4.8" fill="#e41b23"/>
<rect x="630.4" y="496.93" width="4.8" height="4.8" fill="#e41b23"/>
<rect x="664.1" y="522.44" width="4.8" height="4.8" fill="#e41b23"/>
</g>
<g>
<polyline points="531.6,537.6 565.3,531.93 599,516.34 632.8,451.13 666.5,489.41" fill="none" stroke="#1b2e8c" stroke-width="1.6" stroke-linejoin="round"/>
<path d="M599 528.53V505M595.7 505H602.3M595.7 528.53H602.3" fill="none" stroke="#1b2e8c" stroke-width="1.6"/>
<path d="M632.8 465.31V436.96M629.5 436.96H636.1M629.5 465.31H636.1" fill="none" stroke="#1b2e8c" stroke-width="1.6"/>
<path d="M666.5 492.24V485.15M663.2 485.15H669.8M663.2 492.24H669.8" fill="none" stroke="#1b2e8c" stroke-width="1.6"/>
<circle cx="531.6" cy="537.6" r="2.35" fill="#1b2e8c"/>
<circle cx="565.3" cy="531.93" r="2.35" fill="#1b2e8c"/>
<circle cx="599" cy="516.34" r="2.35" fill="#1b2e8c"/>
<circle cx="632.8" cy="451.13" r="2.35" fill="#1b2e8c"/>
<circle cx="666.5" cy="489.41" r="2.35" fill="#1b2e8c"/>
</g>
<text x="563.15" y="503" font-size="11" font-weight="bold" font-family='"Liberation Sans", sans-serif' fill="#111">*</text>
<path d="M50.6 624.8V740.1H223.1" fill="none" stroke="#1a1a1a" stroke-width="1.6" stroke-linecap="square"/>
<g stroke="#141414" stroke-width="0.3">
<path d="M47 740.1H50.6" stroke="#1a1a1a" stroke-width="1.6"/>
<text transform="translate(39.35,744.27) scale(1.07,1)" font-size="10.8" font-weight="bold" font-family='"Liberation Sans", sans-serif' fill="#141414">0</text>
<path d="M47 717.04H50.6" stroke="#1a1a1a" stroke-width="1.6"/>
<text transform="translate(20.08,721.21) scale(1.07,1)" font-size="10.8" font-weight="bold" font-family='"Liberation Sans", sans-serif' fill="#141414">1000</text>
<path d="M47 693.98H50.6" stroke="#1a1a1a" stroke-width="1.6"/>
<text transform="translate(20.08,698.15) scale(1.07,1)" font-size="10.8" font-weight="bold" font-family='"Liberation Sans", sans-serif' fill="#141414">2000</text>
<path d="M47 670.92H50.6" stroke="#1a1a1a" stroke-width="1.6"/>
<text transform="translate(20.08,675.09) scale(1.07,1)" font-size="10.8" font-weight="bold" font-family='"Liberation Sans", sans-serif' fill="#141414">3000</text>
<path d="M47 647.86H50.6" stroke="#1a1a1a" stroke-width="1.6"/>
<text transform="translate(20.08,652.03) scale(1.07,1)" font-size="10.8" font-weight="bold" font-family='"Liberation Sans", sans-serif' fill="#141414">4000</text>
<path d="M47 624.8H50.6" stroke="#1a1a1a" stroke-width="1.6"/>
<text transform="translate(20.08,628.97) scale(1.07,1)" font-size="10.8" font-weight="bold" font-family='"Liberation Sans", sans-serif' fill="#141414">5000</text>
<path d="M67.7 740.1V743.7" stroke="#1a1a1a" stroke-width="1.6"/>
<text transform="translate(65.98,753.8) scale(1.07,1)" font-size="10.8" font-weight="bold" font-family='"Liberation Sans", sans-serif' fill="#141414">6</text>
<path d="M102.25 740.1V743.7" stroke="#1a1a1a" stroke-width="1.6"/>
<text transform="translate(97.16,753.8) scale(1.07,1)" font-size="10.8" font-weight="bold" font-family='"Liberation Sans", sans-serif' fill="#141414">24</text>
<path d="M136.8 740.1V743.7" stroke="#1a1a1a" stroke-width="1.6"/>
<text transform="translate(131.97,753.8) scale(1.07,1)" font-size="10.8" font-weight="bold" font-family='"Liberation Sans", sans-serif' fill="#141414">48</text>
<path d="M171.35 740.1V743.7" stroke="#1a1a1a" stroke-width="1.6"/>
<text transform="translate(166.42,753.8) scale(1.07,1)" font-size="10.8" font-weight="bold" font-family='"Liberation Sans", sans-serif' fill="#141414">72</text>
<path d="M205.9 740.1V743.7" stroke="#1a1a1a" stroke-width="1.6"/>
<text transform="translate(200.99,753.8) scale(1.07,1)" font-size="10.8" font-weight="bold" font-family='"Liberation Sans", sans-serif' fill="#141414">96</text>
</g>
<text x="63.85" y="771.3" font-size="12.08" font-weight="bold" font-family='"Liberation Sans", sans-serif' fill="#141414">hours post infection (hpi)</text>
<text transform="translate(15,719.89) rotate(-90)" font-size="12.26" font-weight="bold" fill="#141414">Conc.(pg/mL)</text>
<text x="116.73" y="607" font-size="15.86" font-weight="bold" font-family='"Liberation Sans", sans-serif' fill="#141414">IP-10</text>
<g>
<polyline points="67.7,740.1 102.25,736.64 136.8,687.52 171.35,718.19 205.9,735.49" fill="none" stroke="#f08428" stroke-width="1.6" stroke-linejoin="round" stroke-dasharray="6,2.5"/>
<path d="M171.35 721.65V714.73M168.05 714.73H174.65M168.05 721.65H174.65" fill="none" stroke="#f08428" stroke-width="1.6"/>
<circle cx="67.7" cy="740.1" r="2.35" fill="#f08428"/>
<circle cx="102.25" cy="736.64" r="2.35" fill="#f08428"/>
<circle cx="136.8" cy="687.52" r="2.35" fill="#f08428"/>
<circle cx="171.35" cy="718.19" r="2.35" fill="#f08428"/>
<circle cx="205.9" cy="735.49" r="2.35" fill="#f08428"/>
</g>
<g>
<polyline points="67.7,740.1 102.25,711.27 136.8,668.61 171.35,705.51 205.9,725.8" fill="none" stroke="#e41b23" stroke-width="1.6" stroke-linejoin="round"/>
<path d="M102.25 713.58V708.97M98.95 708.97H105.55M98.95 713.58H105.55" fill="none" stroke="#e41b23" stroke-width="1.6"/>
<path d="M136.8 672.07V664M133.5 664H140.1M133.5 672.07H140.1" fill="none" stroke="#e41b23" stroke-width="1.6"/>
<rect x="65.3" y="737.7" width="4.8" height="4.8" fill="#e41b23"/>
<rect x="99.85" y="708.88" width="4.8" height="4.8" fill="#e41b23"/>
<rect x="134.4" y="666.21" width="4.8" height="4.8" fill="#e41b23"/>
<rect x="168.95" y="703.11" width="4.8" height="4.8" fill="#e41b23"/>
<rect x="203.5" y="723.4" width="4.8" height="4.8" fill="#e41b23"/>
</g>
<g>
<polyline points="67.7,740.1 102.25,733.18 136.8,717.04 171.35,659.85 205.9,695.13" fill="none" stroke="#1b2e8c" stroke-width="1.6" stroke-linejoin="round"/>
<path d="M102.25 734.34V732.03M98.95 732.03H105.55M98.95 734.34H105.55" fill="none" stroke="#1b2e8c" stroke-width="1.6"/>
<path d="M136.8 727.42V706.66M133.5 706.66H140.1M133.5 727.42H140.1" fill="none" stroke="#1b2e8c" stroke-width="1.6"/>
<path d="M171.35 687.06V632.87M168.05 632.87H174.65M168.05 687.06H174.65" fill="none" stroke="#1b2e8c" stroke-width="1.6"/>
<path d="M205.9 699.75V691.67M202.6 691.67H209.2M202.6 699.75H209.2" fill="none" stroke="#1b2e8c" stroke-width="1.6"/>
<circle cx="67.7" cy="740.1" r="2.35" fill="#1b2e8c"/>
<circle cx="102.25" cy="733.18" r="2.35" fill="#1b2e8c"/>
<circle cx="136.8" cy="717.04" r="2.35" fill="#1b2e8c"/>
<circle cx="171.35" cy="659.85" r="2.35" fill="#1b2e8c"/>
<circle cx="205.9" cy="695.13" r="2.35" fill="#1b2e8c"/>
</g>
<path d="M268.7 617.6V738.4H449.5" fill="none" stroke="#1a1a1a" stroke-width="1.6" stroke-linecap="square"/>
<g stroke="#141414" stroke-width="0.3">
<path d="M265.1 738.4H268.7" stroke="#1a1a1a" stroke-width="1.6"/>
<text transform="translate(256.86,742.5) scale(1.07,1)" font-size="10.6" font-weight="bold" font-family='"Liberation Sans", sans-serif' fill="#141414">0</text>
<path d="M265.1 708.2H268.7" stroke="#1a1a1a" stroke-width="1.6"/>
<text transform="translate(256.72,712.3) scale(1.07,1)" font-size="10.6" font-weight="bold" font-family='"Liberation Sans", sans-serif' fill="#141414">5</text>
<path d="M265.1 678H268.7" stroke="#1a1a1a" stroke-width="1.6"/>
<text transform="translate(250.56,682.1) scale(1.07,1)" font-size="10.6" font-weight="bold" font-family='"Liberation Sans", sans-serif' fill="#141414">10</text>
<path d="M265.1 647.8H268.7" stroke="#1a1a1a" stroke-width="1.6"/>
<text transform="translate(250.42,651.9) scale(1.07,1)" font-size="10.6" font-weight="bold" font-family='"Liberation Sans", sans-serif' fill="#141414">15</text>
<path d="M265.1 617.6H268.7" stroke="#1a1a1a" stroke-width="1.6"/>
<text transform="translate(250.56,621.7) scale(1.07,1)" font-size="10.6" font-weight="bold" font-family='"Liberation Sans", sans-serif' fill="#141414">20</text>
<path d="M287.1 738.4V742" stroke="#1a1a1a" stroke-width="1.6"/>
<text transform="translate(284.44,752.1) scale(1.07,1)" font-size="10.6" font-weight="bold" font-family='"Liberation Sans", sans-serif' fill="#141414">6</text>
<path d="M323.4 738.4V742" stroke="#1a1a1a" stroke-width="1.6"/>
<text transform="translate(317.44,752.1) scale(1.07,1)" font-size="10.6" font-weight="bold" font-family='"Liberation Sans", sans-serif' fill="#141414">24</text>
<path d="M359.7 738.4V742" stroke="#1a1a1a" stroke-width="1.6"/>
<text transform="translate(353.99,752.1) scale(1.07,1)" font-size="10.6" font-weight="bold" font-family='"Liberation Sans", sans-serif' fill="#141414">48</text>
<path d="M396 738.4V742" stroke="#1a1a1a" stroke-width="1.6"/>
<text transform="translate(390.19,752.1) scale(1.07,1)" font-size="10.6" font-weight="bold" font-family='"Liberation Sans", sans-serif' fill="#141414">72</text>
<path d="M432.2 738.4V742" stroke="#1a1a1a" stroke-width="1.6"/>
<text transform="translate(426.41,752.1) scale(1.07,1)" font-size="10.6" font-weight="bold" font-family='"Liberation Sans", sans-serif' fill="#141414">96</text>
</g>
<text x="283.32" y="769.8" font-size="12.59" font-weight="bold" font-family='"Liberation Sans", sans-serif' fill="#141414">hours post infection (hpi)</text>
<text transform="translate(243.75,717.21) rotate(-90)" font-size="12.81" font-weight="bold" fill="#141414">Conc.(pg/mL)</text>
<text x="331.76" y="598.9" font-size="16.84" font-weight="bold" font-family='"Liberation Sans", sans-serif' fill="#141414">Rantes</text>
<g>
<polyline points="287.1,729.34 323.4,706.99 359.7,653.84 396,678 432.2,716.05" fill="none" stroke="#f08428" stroke-width="1.6" stroke-linejoin="round" stroke-dasharray="6,2.5"/>
<path d="M287.1 731.15V725.11M283.8 725.11H290.4M283.8 731.15H290.4" fill="none" stroke="#f08428" stroke-width="1.6"/>
<path d="M323.4 708.2V704.58M320.1 704.58H326.7M320.1 708.2H326.7" fill="none" stroke="#f08428" stroke-width="1.6"/>
<path d="M396 681.02V674.38M392.7 674.38H399.3M392.7 681.02H399.3" fill="none" stroke="#f08428" stroke-width="1.6"/>
<path d="M432.2 718.47V713.64M428.9 713.64H435.5M428.9 718.47H435.5" fill="none" stroke="#f08428" stroke-width="1.6"/>
<circle cx="287.1" cy="729.34" r="2.35" fill="#f08428"/>
<circle cx="323.4" cy="706.99" r="2.35" fill="#f08428"/>
<circle cx="359.7" cy="653.84" r="2.35" fill="#f08428"/>
<circle cx="396" cy="678" r="2.35" fill="#f08428"/>
<circle cx="432.2" cy="716.05" r="2.35" fill="#f08428"/>
</g>
<g>
<polyline points="287.1,721.49 323.4,671.96 359.7,632.7 396,680.42 432.2,703.37" fill="none" stroke="#e41b23" stroke-width="1.6" stroke-linejoin="round"/>
<path d="M287.1 727.53V714.24M283.8 714.24H290.4M283.8 727.53H290.4" fill="none" stroke="#e41b23" stroke-width="1.6"/>
<path d="M359.7 635.72V629.68M356.4 629.68H363M356.4 635.72H363" fill="none" stroke="#e41b23" stroke-width="1.6"/>
<path d="M396 684.04V676.79M392.7 676.79H399.3M392.7 684.04H399.3" fill="none" stroke="#e41b23" stroke-width="1.6"/>
<path d="M432.2 708.2V697.33M428.9 697.33H435.5M428.9 708.2H435.5" fill="none" stroke="#e41b23" stroke-width="1.6"/>
<rect x="284.7" y="719.09" width="4.8" height="4.8" fill="#e41b23"/>
<rect x="321" y="669.56" width="4.8" height="4.8" fill="#e41b23"/>
<rect x="357.3" y="630.3" width="4.8" height="4.8" fill="#e41b23"/>
<rect x="393.6" y="678.02" width="4.8" height="4.8" fill="#e41b23"/>
<rect x="429.8" y="700.97" width="4.8" height="4.8" fill="#e41b23"/>
</g>
<g>
<polyline points="287.1,711.22 323.4,688.27 359.7,674.98 396,630.89 432.2,674.38" fill="none" stroke="#1b2e8c" stroke-width="1.6" stroke-linejoin="round"/>
<path d="M323.4 693.1V683.44M320.1 683.44H326.7M320.1 693.1H326.7" fill="none" stroke="#1b2e8c" stroke-width="1.6"/>
<path d="M359.7 694.91V655.05M356.4 655.05H363M356.4 694.91H363" fill="none" stroke="#1b2e8c" stroke-width="1.6"/>
<path d="M396 634.51V627.26M392.7 627.26H399.3M392.7 634.51H399.3" fill="none" stroke="#1b2e8c" stroke-width="1.6"/>
<path d="M432.2 681.02V667.73M428.9 667.73H435.5M428.9 681.02H435.5" fill="none" stroke="#1b2e8c" stroke-width="1.6"/>
<circle cx="287.1" cy="711.22" r="2.35" fill="#1b2e8c"/>
<circle cx="323.4" cy="688.27" r="2.35" fill="#1b2e8c"/>
<circle cx="359.7" cy="674.98" r="2.35" fill="#1b2e8c"/>
<circle cx="396" cy="630.89" r="2.35" fill="#1b2e8c"/>
<circle cx="432.2" cy="674.38" r="2.35" fill="#1b2e8c"/>
</g>
<path d="M499.4 634.7V740.9H672" fill="none" stroke="#1a1a1a" stroke-width="1.6" stroke-linecap="square"/>
<g stroke="#141414" stroke-width="0.3">
<path d="M495.8 740.9H499.4" stroke="#1a1a1a" stroke-width="1.6"/>
<text transform="translate(488.06,745) scale(1.07,1)" font-size="10.6" font-weight="bold" font-family='"Liberation Sans", sans-serif' fill="#141414">0</text>
<path d="M495.8 714.35H499.4" stroke="#1a1a1a" stroke-width="1.6"/>
<text transform="translate(475.44,718.45) scale(1.07,1)" font-size="10.6" font-weight="bold" font-family='"Liberation Sans", sans-serif' fill="#141414">100</text>
<path d="M495.8 687.8H499.4" stroke="#1a1a1a" stroke-width="1.6"/>
<text transform="translate(475.44,691.9) scale(1.07,1)" font-size="10.6" font-weight="bold" font-family='"Liberation Sans", sans-serif' fill="#141414">200</text>
<path d="M495.8 661.25H499.4" stroke="#1a1a1a" stroke-width="1.6"/>
<text transform="translate(475.44,665.35) scale(1.07,1)" font-size="10.6" font-weight="bold" font-family='"Liberation Sans", sans-serif' fill="#141414">300</text>
<path d="M495.8 634.7H499.4" stroke="#1a1a1a" stroke-width="1.6"/>
<text transform="translate(475.44,638.8) scale(1.07,1)" font-size="10.6" font-weight="bold" font-family='"Liberation Sans", sans-serif' fill="#141414">400</text>
<path d="M516.5 740.9V744.5" stroke="#1a1a1a" stroke-width="1.6"/>
<text transform="translate(513.94,754.3) scale(1.07,1)" font-size="10.6" font-weight="bold" font-family='"Liberation Sans", sans-serif' fill="#141414">6</text>
<path d="M550.8 740.9V744.5" stroke="#1a1a1a" stroke-width="1.6"/>
<text transform="translate(544.94,754.3) scale(1.07,1)" font-size="10.6" font-weight="bold" font-family='"Liberation Sans", sans-serif' fill="#141414">24</text>
<path d="M585.2 740.9V744.5" stroke="#1a1a1a" stroke-width="1.6"/>
<text transform="translate(579.59,754.3) scale(1.07,1)" font-size="10.6" font-weight="bold" font-family='"Liberation Sans", sans-serif' fill="#141414">48</text>
<path d="M619.5 740.9V744.5" stroke="#1a1a1a" stroke-width="1.6"/>
<text transform="translate(613.79,754.3) scale(1.07,1)" font-size="10.6" font-weight="bold" font-family='"Liberation Sans", sans-serif' fill="#141414">72</text>
<path d="M653.8 740.9V744.5" stroke="#1a1a1a" stroke-width="1.6"/>
<text transform="translate(648.11,754.3) scale(1.07,1)" font-size="10.6" font-weight="bold" font-family='"Liberation Sans", sans-serif' fill="#141414">96</text>
</g>
<text x="512.45" y="769.1" font-size="12.11" font-weight="bold" font-family='"Liberation Sans", sans-serif' fill="#141414">hours post infection (hpi)</text>
<text transform="translate(470,721.95) rotate(-90)" font-size="11.27" font-weight="bold" fill="#141414">Conc.(pg/mL)</text>
<text x="558.86" y="601" font-size="15.45" font-weight="bold" font-family='"Liberation Sans", sans-serif' fill="#141414">MIP-1</text>
<text transform="translate(601,600.61) scale(1.13,1)" font-size="13.94" font-weight="normal" font-family='"Liberation Sans", sans-serif' fill="#141414">β</text>
<g>
<polyline points="516.5,740.9 550.8,713.55 585.2,658.6 619.5,723.64 653.8,740.9" fill="none" stroke="#f08428" stroke-width="1.6" stroke-linejoin="round" stroke-dasharray="6,2.5"/>
<path d="M585.2 661.25V655.94M581.9 655.94H588.5M581.9 661.25H588.5" fill="none" stroke="#f08428" stroke-width="1.6"/>
<path d="M619.5 726.3V720.99M616.2 720.99H622.8M616.2 726.3H622.8" fill="none" stroke="#f08428" stroke-width="1.6"/>
<circle cx="516.5" cy="740.9" r="2.35" fill="#f08428"/>
<circle cx="550.8" cy="713.55" r="2.35" fill="#f08428"/>
<circle cx="585.2" cy="658.6" r="2.35" fill="#f08428"/>
<circle cx="619.5" cy="723.64" r="2.35" fill="#f08428"/>
<circle cx="653.8" cy="740.9" r="2.35" fill="#f08428"/>
</g>
<g>
<polyline points="516.5,728.95 550.8,681.16 585.2,642.67 619.5,717.54 653.8,740.9" fill="none" stroke="#e41b23" stroke-width="1.6" stroke-linejoin="round"/>
<path d="M516.5 730.28V727.62M513.2 727.62H519.8M513.2 730.28H519.8" fill="none" stroke="#e41b23" stroke-width="1.6"/>
<path d="M550.8 686.47V674.52M547.5 674.52H554.1M547.5 686.47H554.1" fill="none" stroke="#e41b23" stroke-width="1.6"/>
<path d="M585.2 645.32V640.01M581.9 640.01H588.5M581.9 645.32H588.5" fill="none" stroke="#e41b23" stroke-width="1.6"/>
<rect x="514.1" y="726.55" width="4.8" height="4.8" fill="#e41b23"/>
<rect x="548.4" y="678.76" width="4.8" height="4.8" fill="#e41b23"/>
<rect x="582.8" y="640.27" width="4.8" height="4.8" fill="#e41b23"/>
<rect x="617.1" y="715.14" width="4.8" height="4.8" fill="#e41b23"/>
<rect x="651.4" y="738.5" width="4.8" height="4.8" fill="#e41b23"/>
</g>
<g>
<polyline points="516.5,720.19 550.8,690.46 585.2,681.16 619.5,642.67 653.8,704.53" fill="none" stroke="#1b2e8c" stroke-width="1.6" stroke-linejoin="round"/>
<path d="M516.5 724.97V715.68M513.2 715.68H519.8M513.2 724.97H519.8" fill="none" stroke="#1b2e8c" stroke-width="1.6"/>
<path d="M550.8 694.44V686.47M547.5 686.47H554.1M547.5 694.44H554.1" fill="none" stroke="#1b2e8c" stroke-width="1.6"/>
<path d="M585.2 699.75V662.58M581.9 662.58H588.5M581.9 699.75H588.5" fill="none" stroke="#1b2e8c" stroke-width="1.6"/>
<path d="M619.5 646.65V637.36M616.2 637.36H622.8M616.2 646.65H622.8" fill="none" stroke="#1b2e8c" stroke-width="1.6"/>
<path d="M653.8 707.71V701.08M650.5 701.08H657.1M650.5 707.71H657.1" fill="none" stroke="#1b2e8c" stroke-width="1.6"/>
<circle cx="516.5" cy="720.19" r="2.35" fill="#1b2e8c"/>
<circle cx="550.8" cy="690.46" r="2.35" fill="#1b2e8c"/>
<circle cx="585.2" cy="681.16" r="2.35" fill="#1b2e8c"/>
<circle cx="619.5" cy="642.67" r="2.35" fill="#1b2e8c"/>
<circle cx="653.8" cy="704.53" r="2.35" fill="#1b2e8c"/>
</g>
<path d="M50.5 820.4V935.4H223.6" fill="none" stroke="#1a1a1a" stroke-width="1.6" stroke-linecap="square"/>
<g stroke="#141414" stroke-width="0.3">
<path d="M46.9 935.4H50.5" stroke="#1a1a1a" stroke-width="1.6"/>
<text transform="translate(39.35,939.57) scale(1.07,1)" font-size="10.8" font-weight="bold" font-family='"Liberation Sans", sans-serif' fill="#141414">0</text>
<path d="M46.9 897.07H50.5" stroke="#1a1a1a" stroke-width="1.6"/>
<text transform="translate(26.49,901.23) scale(1.07,1)" font-size="10.8" font-weight="bold" font-family='"Liberation Sans", sans-serif' fill="#141414">500</text>
<path d="M46.9 858.73H50.5" stroke="#1a1a1a" stroke-width="1.6"/>
<text transform="translate(20.08,862.9) scale(1.07,1)" font-size="10.8" font-weight="bold" font-family='"Liberation Sans", sans-serif' fill="#141414">1000</text>
<path d="M46.9 820.4H50.5" stroke="#1a1a1a" stroke-width="1.6"/>
<text transform="translate(20.08,824.57) scale(1.07,1)" font-size="10.8" font-weight="bold" font-family='"Liberation Sans", sans-serif' fill="#141414">1500</text>
<path d="M68.2 935.4V939" stroke="#1a1a1a" stroke-width="1.6"/>
<text transform="translate(65.38,950.2) scale(1.07,1)" font-size="10.8" font-weight="bold" font-family='"Liberation Sans", sans-serif' fill="#141414">6</text>
<path d="M102.8 935.4V939" stroke="#1a1a1a" stroke-width="1.6"/>
<text transform="translate(96.61,950.2) scale(1.07,1)" font-size="10.8" font-weight="bold" font-family='"Liberation Sans", sans-serif' fill="#141414">24</text>
<path d="M137.35 935.4V939" stroke="#1a1a1a" stroke-width="1.6"/>
<text transform="translate(131.42,950.2) scale(1.07,1)" font-size="10.8" font-weight="bold" font-family='"Liberation Sans", sans-serif' fill="#141414">48</text>
<path d="M171.9 935.4V939" stroke="#1a1a1a" stroke-width="1.6"/>
<text transform="translate(165.87,950.2) scale(1.07,1)" font-size="10.8" font-weight="bold" font-family='"Liberation Sans", sans-serif' fill="#141414">72</text>
<path d="M206.5 935.4V939" stroke="#1a1a1a" stroke-width="1.6"/>
<text transform="translate(200.49,950.2) scale(1.07,1)" font-size="10.8" font-weight="bold" font-family='"Liberation Sans", sans-serif' fill="#141414">96</text>
</g>
<text x="63.85" y="965.8" font-size="12.08" font-weight="bold" font-family='"Liberation Sans", sans-serif' fill="#141414">hours post infection (hpi)</text>
<text transform="translate(15,915.79) rotate(-90)" font-size="12.26" font-weight="bold" fill="#141414">Conc.(pg/mL)</text>
<text x="110.77" y="802.2" font-size="15.69" font-weight="bold" font-family='"Liberation Sans", sans-serif' fill="#141414">GRO-</text>
<text transform="translate(151.74,802.1) scale(1.52,1)" font-size="10.23" font-weight="normal" font-family='"Liberation Sans", sans-serif' fill="#141414">α</text>
<g>
<polyline points="68.2,932.33 102.8,901.67 137.35,857.97 171.9,920.07 206.5,935.4" fill="none" stroke="#f08428" stroke-width="1.6" stroke-linejoin="round" stroke-dasharray="6,2.5"/>
<path d="M137.35 859.5V856.43M134.05 856.43H140.65M134.05 859.5H140.65" fill="none" stroke="#f08428" stroke-width="1.6"/>
<path d="M171.9 921.6V917.77M168.6 917.77H175.2M168.6 921.6H175.2" fill="none" stroke="#f08428" stroke-width="1.6"/>
<circle cx="68.2" cy="932.33" r="2.35" fill="#f08428"/>
<circle cx="102.8" cy="901.67" r="2.35" fill="#f08428"/>
<circle cx="137.35" cy="857.97" r="2.35" fill="#f08428"/>
<circle cx="171.9" cy="920.07" r="2.35" fill="#f08428"/>
<circle cx="206.5" cy="935.4" r="2.35" fill="#f08428"/>
</g>
<g>
<polyline points="68.2,918.15 102.8,875.98 137.35,846.08 171.9,913.17 206.5,932.33" fill="none" stroke="#e41b23" stroke-width="1.6" stroke-linejoin="round"/>
<path d="M102.8 877.9V874.07M99.5 874.07H106.1M99.5 877.9H106.1" fill="none" stroke="#e41b23" stroke-width="1.6"/>
<path d="M137.35 849.53V842.63M134.05 842.63H140.65M134.05 849.53H140.65" fill="none" stroke="#e41b23" stroke-width="1.6"/>
<rect x="65.8" y="915.75" width="4.8" height="4.8" fill="#e41b23"/>
<rect x="100.4" y="873.58" width="4.8" height="4.8" fill="#e41b23"/>
<rect x="134.95" y="843.68" width="4.8" height="4.8" fill="#e41b23"/>
<rect x="169.5" y="910.77" width="4.8" height="4.8" fill="#e41b23"/>
<rect x="204.1" y="929.93" width="4.8" height="4.8" fill="#e41b23"/>
</g>
<g>
<polyline points="68.2,908.95 102.8,882.5 137.35,872.92 171.9,829.22 206.5,898.6" fill="none" stroke="#1b2e8c" stroke-width="1.6" stroke-linejoin="round"/>
<path d="M68.2 911.63V906.27M64.9 906.27H71.5M64.9 911.63H71.5" fill="none" stroke="#1b2e8c" stroke-width="1.6"/>
<path d="M102.8 888.63V876.37M99.5 876.37H106.1M99.5 888.63H106.1" fill="none" stroke="#1b2e8c" stroke-width="1.6"/>
<path d="M137.35 887.1V858.73M134.05 858.73H140.65M134.05 887.1H140.65" fill="none" stroke="#1b2e8c" stroke-width="1.6"/>
<path d="M171.9 834.97V823.47M168.6 823.47H175.2M168.6 834.97H175.2" fill="none" stroke="#1b2e8c" stroke-width="1.6"/>
<path d="M206.5 901.28V895.92M203.2 895.92H209.8M203.2 901.28H209.8" fill="none" stroke="#1b2e8c" stroke-width="1.6"/>
<circle cx="68.2" cy="908.95" r="2.35" fill="#1b2e8c"/>
<circle cx="102.8" cy="882.5" r="2.35" fill="#1b2e8c"/>
<circle cx="137.35" cy="872.92" r="2.35" fill="#1b2e8c"/>
<circle cx="171.9" cy="829.22" r="2.35" fill="#1b2e8c"/>
<circle cx="206.5" cy="898.6" r="2.35" fill="#1b2e8c"/>
</g>
<path d="M281.2 818.3V935.7H450.3" fill="none" stroke="#1a1a1a" stroke-width="1.6" stroke-linecap="square"/>
<g stroke="#141414" stroke-width="0.3">
<path d="M277.6 935.7H281.2" stroke="#1a1a1a" stroke-width="1.6"/>
<text transform="translate(270.06,939.8) scale(1.07,1)" font-size="10.6" font-weight="bold" font-family='"Liberation Sans", sans-serif' fill="#141414">0</text>
<path d="M277.6 912.22H281.2" stroke="#1a1a1a" stroke-width="1.6"/>
<text transform="translate(257.44,916.32) scale(1.07,1)" font-size="10.6" font-weight="bold" font-family='"Liberation Sans", sans-serif' fill="#141414">100</text>
<path d="M277.6 888.74H281.2" stroke="#1a1a1a" stroke-width="1.6"/>
<text transform="translate(257.44,892.84) scale(1.07,1)" font-size="10.6" font-weight="bold" font-family='"Liberation Sans", sans-serif' fill="#141414">200</text>
<path d="M277.6 865.26H281.2" stroke="#1a1a1a" stroke-width="1.6"/>
<text transform="translate(257.44,869.36) scale(1.07,1)" font-size="10.6" font-weight="bold" font-family='"Liberation Sans", sans-serif' fill="#141414">300</text>
<path d="M277.6 841.78H281.2" stroke="#1a1a1a" stroke-width="1.6"/>
<text transform="translate(257.44,845.88) scale(1.07,1)" font-size="10.6" font-weight="bold" font-family='"Liberation Sans", sans-serif' fill="#141414">400</text>
<path d="M277.6 818.3H281.2" stroke="#1a1a1a" stroke-width="1.6"/>
<text transform="translate(257.44,822.4) scale(1.07,1)" font-size="10.6" font-weight="bold" font-family='"Liberation Sans", sans-serif' fill="#141414">500</text>
<path d="M298.9 935.7V939.3" stroke="#1a1a1a" stroke-width="1.6"/>
<text transform="translate(296.54,950) scale(1.07,1)" font-size="10.6" font-weight="bold" font-family='"Liberation Sans", sans-serif' fill="#141414">6</text>
<path d="M334.15 935.7V939.3" stroke="#1a1a1a" stroke-width="1.6"/>
<text transform="translate(328.49,950) scale(1.07,1)" font-size="10.6" font-weight="bold" font-family='"Liberation Sans", sans-serif' fill="#141414">24</text>
<path d="M369.4 935.7V939.3" stroke="#1a1a1a" stroke-width="1.6"/>
<text transform="translate(363.99,950) scale(1.07,1)" font-size="10.6" font-weight="bold" font-family='"Liberation Sans", sans-serif' fill="#141414">48</text>
<path d="M404.65 935.7V939.3" stroke="#1a1a1a" stroke-width="1.6"/>
<text transform="translate(399.14,950) scale(1.07,1)" font-size="10.6" font-weight="bold" font-family='"Liberation Sans", sans-serif' fill="#141414">72</text>
<path d="M439.9 935.7V939.3" stroke="#1a1a1a" stroke-width="1.6"/>
<text transform="translate(434.41,950) scale(1.07,1)" font-size="10.6" font-weight="bold" font-family='"Liberation Sans", sans-serif' fill="#141414">96</text>
</g>
<text x="294.93" y="967.5" font-size="12.41" font-weight="bold" font-family='"Liberation Sans", sans-serif' fill="#141414">hours post infection (hpi)</text>
<text transform="translate(250,915.1) rotate(-90)" font-size="12.48" font-weight="bold" fill="#141414">Conc.(pg/mL)</text>
<text x="340.51" y="799.9" font-size="16.22" font-weight="bold" font-family='"Liberation Sans", sans-serif' fill="#141414">SDF-1</text>
<text transform="translate(388.1,799.78) scale(1.36,1)" font-size="12.05" font-weight="normal" font-family='"Liberation Sans", sans-serif' fill="#141414">α</text>
<g>
<polyline points="298.9,935.7 334.15,909.87 369.4,861.03 404.65,912.22 439.9,935.7" fill="none" stroke="#f08428" stroke-width="1.6" stroke-linejoin="round" stroke-dasharray="6,2.5"/>
<path d="M404.65 925.13V899.31M401.35 899.31H407.95M401.35 925.13H407.95" fill="none" stroke="#f08428" stroke-width="1.6"/>
<circle cx="298.9" cy="935.7" r="2.35" fill="#f08428"/>
<circle cx="334.15" cy="909.87" r="2.35" fill="#f08428"/>
<circle cx="369.4" cy="861.03" r="2.35" fill="#f08428"/>
<circle cx="404.65" cy="912.22" r="2.35" fill="#f08428"/>
<circle cx="439.9" cy="935.7" r="2.35" fill="#f08428"/>
</g>
<g>
<polyline points="298.9,926.78 334.15,861.03 369.4,841.08 404.65,910.34 439.9,935.7" fill="none" stroke="#e41b23" stroke-width="1.6" stroke-linejoin="round"/>
<path d="M334.15 865.26V857.04M330.85 857.04H337.45M330.85 865.26H337.45" fill="none" stroke="#e41b23" stroke-width="1.6"/>
<path d="M369.4 845.3V837.08M366.1 837.08H372.7M366.1 845.3H372.7" fill="none" stroke="#e41b23" stroke-width="1.6"/>
<rect x="296.5" y="924.38" width="4.8" height="4.8" fill="#e41b23"/>
<rect x="331.75" y="858.63" width="4.8" height="4.8" fill="#e41b23"/>
<rect x="367" y="838.68" width="4.8" height="4.8" fill="#e41b23"/>
<rect x="402.25" y="907.94" width="4.8" height="4.8" fill="#e41b23"/>
<rect x="437.5" y="933.3" width="4.8" height="4.8" fill="#e41b23"/>
</g>
<g>
<polyline points="298.9,915.27 334.15,885.92 369.4,880.05 404.65,830.74 439.9,900.48" fill="none" stroke="#1b2e8c" stroke-width="1.6" stroke-linejoin="round"/>
<path d="M298.9 921.61V909.4M295.6 909.4H302.2M295.6 921.61H302.2" fill="none" stroke="#1b2e8c" stroke-width="1.6"/>
<path d="M334.15 892.26V879.35M330.85 879.35H337.45M330.85 892.26H337.45" fill="none" stroke="#1b2e8c" stroke-width="1.6"/>
<path d="M369.4 902.83V857.04M366.1 857.04H372.7M366.1 902.83H372.7" fill="none" stroke="#1b2e8c" stroke-width="1.6"/>
<path d="M404.65 840.61V821.12M401.35 821.12H407.95M401.35 840.61H407.95" fill="none" stroke="#1b2e8c" stroke-width="1.6"/>
<path d="M439.9 904V896.96M436.6 896.96H443.2M436.6 904H443.2" fill="none" stroke="#1b2e8c" stroke-width="1.6"/>
<circle cx="298.9" cy="915.27" r="2.35" fill="#1b2e8c"/>
<circle cx="334.15" cy="885.92" r="2.35" fill="#1b2e8c"/>
<circle cx="369.4" cy="880.05" r="2.35" fill="#1b2e8c"/>
<circle cx="404.65" cy="830.74" r="2.35" fill="#1b2e8c"/>
<circle cx="439.9" cy="900.48" r="2.35" fill="#1b2e8c"/>
</g>
<path d="M502.1 820.4V935.4H679.5" fill="none" stroke="#1a1a1a" stroke-width="1.6" stroke-linecap="square"/>
<g stroke="#141414" stroke-width="0.3">
<path d="M498.5 935.4H502.1" stroke="#1a1a1a" stroke-width="1.6"/>
<text transform="translate(490.46,939.5) scale(1.07,1)" font-size="10.6" font-weight="bold" font-family='"Liberation Sans", sans-serif' fill="#141414">0</text>
<path d="M498.5 897.07H502.1" stroke="#1a1a1a" stroke-width="1.6"/>
<text transform="translate(477.84,901.16) scale(1.07,1)" font-size="10.6" font-weight="bold" font-family='"Liberation Sans", sans-serif' fill="#141414">200</text>
<path d="M498.5 858.73H502.1" stroke="#1a1a1a" stroke-width="1.6"/>
<text transform="translate(477.84,862.83) scale(1.07,1)" font-size="10.6" font-weight="bold" font-family='"Liberation Sans", sans-serif' fill="#141414">400</text>
<path d="M498.5 820.4H502.1" stroke="#1a1a1a" stroke-width="1.6"/>
<text transform="translate(477.84,824.5) scale(1.07,1)" font-size="10.6" font-weight="bold" font-family='"Liberation Sans", sans-serif' fill="#141414">600</text>
<path d="M519.5 935.4V939" stroke="#1a1a1a" stroke-width="1.6"/>
<text transform="translate(516.94,949.2) scale(1.07,1)" font-size="10.6" font-weight="bold" font-family='"Liberation Sans", sans-serif' fill="#141414">6</text>
<path d="M554.8 935.4V939" stroke="#1a1a1a" stroke-width="1.6"/>
<text transform="translate(548.94,949.2) scale(1.07,1)" font-size="10.6" font-weight="bold" font-family='"Liberation Sans", sans-serif' fill="#141414">24</text>
<path d="M590.1 935.4V939" stroke="#1a1a1a" stroke-width="1.6"/>
<text transform="translate(584.49,949.2) scale(1.07,1)" font-size="10.6" font-weight="bold" font-family='"Liberation Sans", sans-serif' fill="#141414">48</text>
<path d="M625.5 935.4V939" stroke="#1a1a1a" stroke-width="1.6"/>
<text transform="translate(619.79,949.2) scale(1.07,1)" font-size="10.6" font-weight="bold" font-family='"Liberation Sans", sans-serif' fill="#141414">72</text>
<path d="M660.8 935.4V939" stroke="#1a1a1a" stroke-width="1.6"/>
<text transform="translate(655.11,949.2) scale(1.07,1)" font-size="10.6" font-weight="bold" font-family='"Liberation Sans", sans-serif' fill="#141414">96</text>
</g>
<text x="515.23" y="966.7" font-size="12.38" font-weight="bold" font-family='"Liberation Sans", sans-serif' fill="#141414">hours post infection (hpi)</text>
<text transform="translate(471.4,915.09) rotate(-90)" font-size="12.15" font-weight="bold" fill="#141414">Conc.(pg/mL)</text>
<text x="556.21" y="802.2" font-size="16.15" font-weight="bold" font-family='"Liberation Sans", sans-serif' fill="#141414">IL-1 beta</text>
<g>
<polyline points="519.5,933.48 554.8,931.95 590.1,922.37 625.5,931.57 660.8,932.52" fill="none" stroke="#1b2e8c" stroke-width="1.6" stroke-linejoin="round"/>
<circle cx="519.5" cy="933.48" r="3" fill="#1b2e8c"/>
<circle cx="554.8" cy="931.95" r="3" fill="#1b2e8c"/>
<circle cx="590.1" cy="922.37" r="3" fill="#1b2e8c"/>
<circle cx="625.5" cy="931.57" r="3" fill="#1b2e8c"/>
<circle cx="660.8" cy="932.52" r="3" fill="#1b2e8c"/>
</g>
<g>
<polyline points="519.5,933.48 554.8,932.52 590.1,897.07 625.5,913.36 660.8,930.61" fill="none" stroke="#f08428" stroke-width="1.6" stroke-linejoin="round" stroke-dasharray="6,2.5"/>
<rect x="516.5" y="930.48" width="6" height="6" fill="#f08428"/>
<rect x="551.8" y="929.52" width="6" height="6" fill="#f08428"/>
<rect x="587.1" y="894.07" width="6" height="6" fill="#f08428"/>
<rect x="622.5" y="910.36" width="6" height="6" fill="#f08428"/>
<rect x="657.8" y="927.61" width="6" height="6" fill="#f08428"/>
</g>
<g>
<polyline points="519.5,933.48 554.8,895.15 590.1,843.4 625.5,926.2 660.8,930.61" fill="none" stroke="#e41b23" stroke-width="1.6" stroke-linejoin="round"/>
<path d="M590.1 847.23V839.57M586.8 839.57H593.4M586.8 847.23H593.4" fill="none" stroke="#e41b23" stroke-width="1.6"/>
<path d="M519.5 929.45L523.4 936.21L515.6 936.21Z" fill="#e41b23"/>
<path d="M554.8 891.12L558.7 897.88L550.9 897.88Z" fill="#e41b23"/>
<path d="M590.1 839.37L594 846.13L586.2 846.13Z" fill="#e41b23"/>
<path d="M625.5 922.17L629.4 928.93L621.6 928.93Z" fill="#e41b23"/>
<path d="M660.8 926.58L664.7 933.34L656.9 933.34Z" fill="#e41b23"/>
</g>
<text x="550.51" y="887" font-size="11" font-weight="bold" font-family='"Liberation Sans", sans-serif' fill="#111">**</text>
<g stroke="#111" stroke-width="0.7">
<text transform="translate(2.86,17.1) scale(0.75,1)" font-size="21.2" font-weight="normal" font-family='"Liberation Sans", sans-serif' fill="#111">A</text>
<text transform="translate(2.37,199.3) scale(0.72,1)" font-size="22.5" font-weight="normal" font-family='"Liberation Sans", sans-serif' fill="#111">B</text>
</g>
<path d="M536.5 30.6H555" stroke="#1b2e8c" stroke-width="1.9"/>
<circle cx="545.6" cy="30.6" r="3.15" fill="#1b2e8c"/>
<g stroke="#1a1a1a" stroke-width="0.25">
<text x="564.85" y="35" font-size="13.93" font-weight="normal" font-family='"Liberation Sans", sans-serif' fill="#1a1a1a">H7N9-P0</text>
</g>
<path d="M536.5 54H555" stroke="#f08428" stroke-width="1.9" stroke-dasharray="4.5,2.5"/>
<circle cx="545.6" cy="54" r="3.15" fill="#f08428"/>
<g stroke="#1a1a1a" stroke-width="0.25">
<text x="566.05" y="58.4" font-size="13.89" font-weight="normal" font-family='"Liberation Sans", sans-serif' fill="#1a1a1a">H7N9-P2</text>
</g>
<path d="M536.5 75.7H555" stroke="#e41b23" stroke-width="1.9"/>
<rect x="542.6" y="72.7" width="6" height="6" fill="#e41b23"/>
<g stroke="#1a1a1a" stroke-width="0.25">
<text x="566.05" y="80.1" font-size="13.93" font-weight="normal" font-family='"Liberation Sans", sans-serif' fill="#1a1a1a">H7N9-P35</text>
</g>
</svg></body></html>
